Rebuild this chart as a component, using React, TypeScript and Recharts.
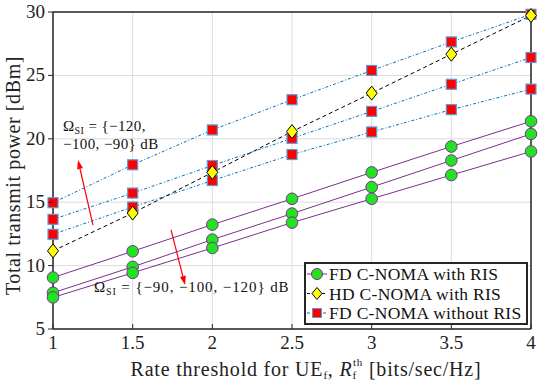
import { LineChart, Line, XAxis, YAxis, CartesianGrid, Legend, ReferenceLine, ReferenceDot } from 'recharts';

const rates = [1, 1.5, 2, 2.5, 3, 3.5, 4];
const xTicks = [1, 1.5, 2, 2.5, 3, 3.5, 4];
const yTicks = [5, 10, 15, 20, 25, 30];

// FD C-NOMA with RIS, Omega_SI = -90, -100, -120 dB
const fdRis90 = [9.06, 11.13, 13.23, 15.27, 17.35, 19.39, 21.38];
const fdRis100 = [7.86, 9.9, 12.05, 14.1, 16.19, 18.29, 20.38];
const fdRis120 = [7.49, 9.43, 11.39, 13.39, 15.27, 17.14, 19.0];
// HD C-NOMA with RIS
const hdRis = [11.16, 14.14, 17.35, 20.57, 23.6, 26.67, 29.72];
// FD C-NOMA without RIS, Omega_SI = -120, -100, -90 dB
const fdNoRis90 = [14.96, 17.95, 20.7, 23.08, 25.39, 27.64, 29.82];
const fdNoRis100 = [13.65, 15.72, 17.89, 20.04, 22.16, 24.3, 26.41];
const fdNoRis120 = [12.47, 14.62, 16.71, 18.76, 20.54, 22.3, 23.92];

const FONT = 'Liberation Serif, Times New Roman, serif';
const PURPLE = '#7E2F8E';
const GREEN = '#22e322';
const BLUE = '#0072BD';
const EDGE_BLUE = '#5b9bd5';
const AXIS = '#262626';

const data = rates.map((x, i) => ({
  x,
  a1: fdRis90[i],
  a2: fdRis100[i],
  a3: fdRis120[i],
  h: hdRis[i],
  b1: fdNoRis90[i],
  b2: fdNoRis100[i],
  b3: fdNoRis120[i],
}));

const CircleDot = (p: any) => (
  <circle cx={p.cx} cy={p.cy} r={5.8} fill={GREEN} stroke={PURPLE} strokeWidth={1} />
);
const DiamondDot = (p: any) => (
  <polygon
    points={`${p.cx},${p.cy - 7} ${p.cx + 5.5},${p.cy} ${p.cx},${p.cy + 7} ${p.cx - 5.5},${p.cy}`}
    fill="#ffff00"
    stroke="#000"
    strokeWidth={1}
  />
);
const SquareDot = (p: any) => (
  <rect x={p.cx - 5} y={p.cy - 5} width={10} height={10} fill="#ff0000" stroke={EDGE_BLUE} strokeWidth={1.2} />
);

// tick labels plus small inward tick marks (MATLAB style)
const XTick = (p: any) => (
  <g>
    <line x1={p.x} x2={p.x} y1={p.y - 8} y2={p.y - 13} stroke={AXIS} />
    <text x={p.x} y={p.y + 12} textAnchor="middle" fontFamily={FONT} fontSize={19} fill="#222">
      {p.payload.value}
    </text>
  </g>
);
const YTick = (p: any) => (
  <g>
    <line x1={p.x + 5} x2={p.x + 10} y1={p.y} y2={p.y} stroke={AXIS} />
    <text x={p.x + 2} y={p.y + 6} textAnchor="end" fontFamily={FONT} fontSize={19} fill="#222">
      {p.payload.value}
    </text>
  </g>
);

const XLabel = (p: any) => {
  const vb = p.viewBox;
  const cx = vb.x + vb.width / 2 + 14;
  const y = vb.y + 47;
  return (
    <text x={cx} y={y} textAnchor="middle" fontFamily={FONT} fontSize={20} letterSpacing={0.8} fill="#222">
      Rate threshold for UE
      <tspan fontSize={11} dy={3}>f</tspan>
      <tspan dy={-3}>, </tspan>
      <tspan fontStyle="italic">R</tspan>
      <tspan fontSize={11} dy={3}>f</tspan>
      <tspan fontSize={11} dx={-4} dy={-13}>th</tspan>
      <tspan dy={10}> [bits/sec/Hz]</tspan>
    </text>
  );
};

const YLabel = (p: any) => {
  const vb = p.viewBox;
  const cy = vb.y + vb.height / 2 + 5;
  const x = 20;
  return (
    <text
      x={x}
      y={cy}
      transform={`rotate(-90 ${x} ${cy})`}
      textAnchor="middle"
      fontFamily={FONT}
      fontSize={20}
      letterSpacing={0.6}
      fill="#222"
    >
      Total transmit power [dBm]
    </text>
  );
};

const Arrow = (p: any) => {
  const { x1, y1, x2, y2 } = p;
  const ang = Math.atan2(y2 - y1, x2 - x1);
  const L = 9;
  const W = 3;
  const bx = x2 - L * Math.cos(ang);
  const by = y2 - L * Math.sin(ang);
  const px = -Math.sin(ang) * W;
  const py = Math.cos(ang) * W;
  return (
    <g>
      <line x1={x1} y1={y1} x2={bx} y2={by} stroke="#ff0000" strokeWidth={1.2} />
      <polygon points={`${x2},${y2} ${bx + px},${by + py} ${bx - px},${by - py}`} fill="#ff0000" />
    </g>
  );
};

const NoteTop = (p: any) => (
  <text x={p.cx} y={p.cy} fontFamily={FONT} fontSize={15} letterSpacing={0.4} fill="#111">
    Ω<tspan fontSize={10} dy={3}>SI</tspan>
    <tspan dy={-3}> = {'{'}−120,</tspan>
    <tspan x={p.cx} dy={18}>−100, −90{'}'} dB</tspan>
  </text>
);

const NoteBottom = (p: any) => (
  <text x={p.cx} y={p.cy} fontFamily={FONT} fontSize={15} letterSpacing={0.9} fill="#111">
    Ω<tspan fontSize={10} dy={3}>SI</tspan>
    <tspan dy={-3}> = {'{'}−90,  −100,  −120{'}'}  dB</tspan>
  </text>
);

const legendItems = [
  { name: 'FD C-NOMA with RIS', dot: 'c' },
  { name: 'HD C-NOMA with RIS', dot: 'd' },
  { name: 'FD C-NOMA without RIS', dot: 's' },
];

// legend drawn as svg so it uses the same serif face as the axes
const LegendBox = () => (
  <svg width={224} height={63} style={{ display: 'block' }}>
    <rect x={1} y={1} width={222} height={61} fill="#fff" stroke={AXIS} strokeWidth={2} />
    {legendItems.map((it, i) => {
      const cy = 12 + i * 19.5;
      return (
        <g key={it.name}>
          {it.dot === 'c' && (
            <>
              <line x1={3} x2={23} y1={cy} y2={cy} stroke={PURPLE} />
              <circle cx={13} cy={cy} r={5.5} fill={GREEN} stroke={PURPLE} />
            </>
          )}
          {it.dot === 'd' && (
            <>
              <line x1={3} x2={23} y1={cy} y2={cy} stroke="#000" strokeDasharray="3 2" />
              <polygon points={`13,${cy - 6} 18,${cy} 13,${cy + 6} 8,${cy}`} fill="#ffff00" stroke="#000" />
            </>
          )}
          {it.dot === 's' && (
            <>
              <line x1={3} x2={23} y1={cy} y2={cy} stroke={BLUE} strokeDasharray="3 2 1 2" />
              <rect x={8.5} y={cy - 4.5} width={9} height={9} fill="#ff0000" stroke={EDGE_BLUE} />
            </>
          )}
          <text x={25} y={cy + 6} fontFamily={FONT} fontSize={17.5} letterSpacing={0.3} fill="#111">
            {it.name}
          </text>
        </g>
      );
    })}
  </svg>
);

export default function App() {
  return (
    <div style={{ position: 'absolute', left: 0, top: 0, background: '#fff' }}>
      <LineChart width={544} height={384} data={data} margin={{ top: 12, right: 13, left: 13, bottom: 15 }}>
        <CartesianGrid stroke="#dcdcdc" strokeWidth={1} />
        <XAxis
          dataKey="x"
          type="number"
          domain={[1, 4]}
          ticks={xTicks}
          height={40}
          tickSize={0}
          tickMargin={8}
          tickLine={false}
          tick={<XTick />}
          stroke={AXIS}
          strokeWidth={1.5}
          label={<XLabel />}
        />
        <YAxis
          type="number"
          domain={[5, 30]}
          ticks={yTicks}
          width={40}
          tickSize={0}
          tickMargin={10}
          tickLine={false}
          tick={<YTick />}
          stroke={AXIS}
          strokeWidth={1.5}
          label={<YLabel />}
        />
        <ReferenceLine y={30} stroke={AXIS} strokeWidth={1.5} />
        <ReferenceLine x={4} stroke={AXIS} strokeWidth={1.5} />

        <ReferenceLine segment={[{ x: 1.251, y: 13.2 }, { x: 1.157, y: 18.33 }]} shape={<Arrow />} />
        <ReferenceLine segment={[{ x: 1.741, y: 12.81 }, { x: 1.829, y: 8.47 }]} shape={<Arrow />} />
        <ReferenceDot x={1.063} y={20.62} r={0} shape={<NoteTop />} />
        <ReferenceDot x={1.257} y={7.92} r={0} shape={<NoteBottom />} />

        <Line dataKey="b1" stroke={BLUE} strokeWidth={1} strokeDasharray="3 2 1 2" dot={<SquareDot />} isAnimationActive={false} />
        <Line dataKey="b2" stroke={BLUE} strokeWidth={1} strokeDasharray="3 2 1 2" dot={<SquareDot />} isAnimationActive={false} />
        <Line dataKey="b3" stroke={BLUE} strokeWidth={1} strokeDasharray="3 2 1 2" dot={<SquareDot />} isAnimationActive={false} />
        <Line dataKey="h" stroke="#000" strokeWidth={1} strokeDasharray="4 3" dot={<DiamondDot />} isAnimationActive={false} />
        <Line dataKey="a1" stroke={PURPLE} strokeWidth={1} dot={<CircleDot />} isAnimationActive={false} />
        <Line dataKey="a2" stroke={PURPLE} strokeWidth={1} dot={<CircleDot />} isAnimationActive={false} />
        <Line dataKey="a3" stroke={PURPLE} strokeWidth={1} dot={<CircleDot />} isAnimationActive={false} />

        <Legend
          layout="vertical"
          align="center"
          verticalAlign="middle"
          content={<LegendBox />}
          wrapperStyle={{ left: 304, top: 262, width: 'auto', height: 'auto' }}
        />
      </LineChart>
    </div>
  );
}
